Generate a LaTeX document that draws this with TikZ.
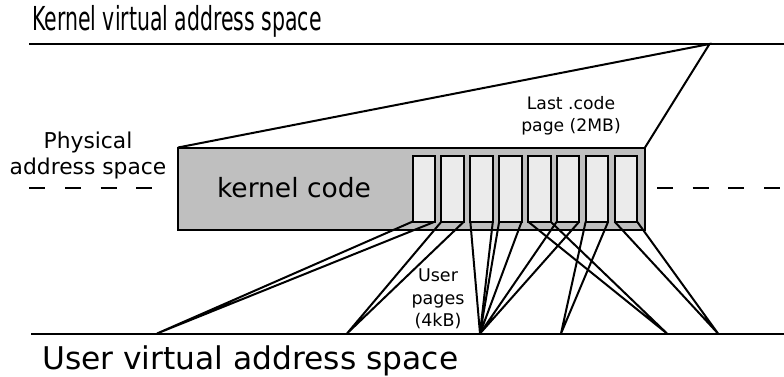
\documentclass[tikz,border=0pt]{standalone}
\usepackage{fontspec}
\setmainfont{DejaVu Sans}
\usepackage{tikz}
\usetikzlibrary{positioning}
\definecolor{codegray}{HTML}{BFBFBF}
\definecolor{pagefill}{HTML}{EBEBEB}
\tikzset{
	addrline/.style={line width=2pt},
	conn/.style={line width=2pt},
	pagebox/.style={draw, line width=2pt, fill=pagefill, minimum width=22.5pt, minimum height=65.5pt, inner sep=0pt, outer sep=0pt},
	dashline/.style={line width=2pt, dash pattern=on 16pt off 19.7pt},
	lbl/.style={align=center, inner sep=0pt},
}

\begin{document}
\begin{tikzpicture}[x=1pt,y=-1pt]
\useasboundingbox (0,0) rectangle (784,377);
% virtual address spaces
\draw[addrline] (29,44) -- (784,44);
\draw[addrline] (31,333.5) -- (784,333.5);
\node[anchor=base west, inner sep=0pt] (kvas) at (32,31) {\fontsize{33}{39}\selectfont\scalebox{0.62}[1]{Kernel virtual address space}};
\node[anchor=base west, inner sep=0pt] (uvas) at (42,369) {\fontsize{31.3}{37}\selectfont User virtual address space};
% physical address space
\draw[dashline] (29.3,188) -- (165,188);
\draw[dashline] (657,188) -- (784,188);
\node[lbl, font=\fontsize{21.8}{26}\selectfont] (physlbl) at (88,155) {Physical\\address space};
\node[draw, line width=2pt, fill=codegray, minimum width=467pt, minimum height=82pt, inner sep=0pt, outer sep=0pt] (phys) at (411.5,188.5) {};
\node[font=\fontsize{26.5}{32}\selectfont] (kcode) at (294,188) {kernel code};
\foreach \i in {1,...,8}
	\node[pagebox] (p\i) at ({423.9+28.84*(\i-1)},188.8) {};
% last 2MB code page
\coordinate (kpage) at (709.5,44);
\draw[conn] (phys.north west) -- (kpage) -- (phys.north east);
\node[lbl, font=\fontsize{17.2}{22.5}\selectfont] (lastlbl) at (571,116) {Last .code\\page (2MB)};
% user pages
\coordinate (u1) at (157,333.5);
\coordinate (u2) at (347,333.5);
\coordinate (u3) at (480,333.5);
\coordinate (u4) at (561,333.5);
\coordinate (u5) at (667,333.5);
\coordinate (u6) at (718,333.5);
\foreach \i/\u in {1/u1,2/u2,3/u3,4/u3,5/u5,6/u3,7/u4,8/u6}
	\draw[conn] (p\i.south west) -- (\u) -- (p\i.south east);
\node[lbl, font=\fontsize{17.5}{22.5}\selectfont] (userlbl) at (438,299) {User\\pages\\(4kB)};
\end{tikzpicture}
\end{document}
